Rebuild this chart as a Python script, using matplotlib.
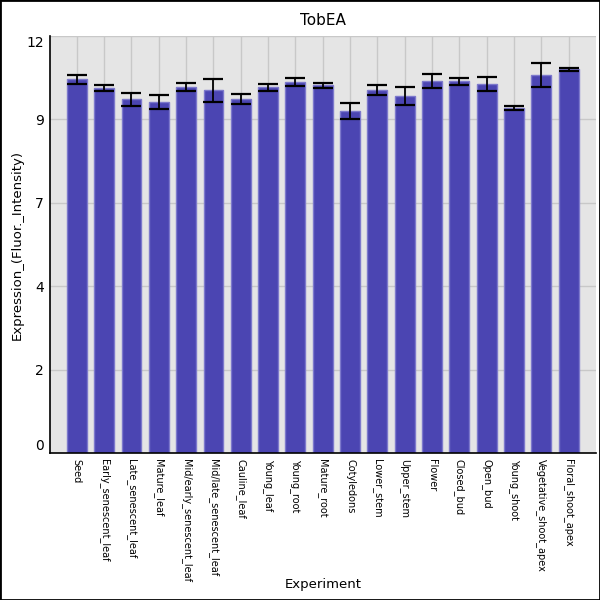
import numpy as np
import matplotlib
matplotlib.use('Agg')
import matplotlib.pyplot as plt
from matplotlib.patches import Rectangle

# data
experiments = ['Seed', 'Early_senescent_leaf', 'Late_senescent_leaf', 'Mature_leaf',
               'Mid/early_senescent_leaf', 'Mid/late_senescent_leaf', 'Cauline_leaf',
               'Young_leaf', 'Young_root', 'Mature_root', 'Cotyledons', 'Lower_stem',
               'Upper_stem', 'Flower', 'Closed_bud', 'Open_bud', 'Young_shoot',
               'Vegetative_shoot_apex', 'Floral_shoot_apex']
expression = [10.76, 10.50, 10.18, 10.09, 10.53, 10.44, 10.18, 10.53, 10.67, 10.58,
              9.84, 10.44, 10.27, 10.70, 10.70, 10.61, 9.92, 10.87, 11.04]
errors = [0.13, 0.08, 0.19, 0.20, 0.12, 0.33, 0.15, 0.10, 0.12, 0.07,
          0.23, 0.14, 0.25, 0.20, 0.10, 0.20, 0.06, 0.35, 0.05]
yticks = [0, 2.4, 4.8, 7.2, 9.6, 12]
ytick_labels = ['0', '2', '4', '7', '9', '12']

fig = plt.figure(figsize=(6, 6), dpi=100)
ax = fig.add_axes([0.0825, 0.245, 0.911, 0.695])
ax.set_facecolor('#e5e5e5')

x = np.arange(len(experiments))
ax.bar(x, expression, width=0.73, color='#4b45b2', edgecolor='#7d79cc', linewidth=1, zorder=2)
ax.errorbar(x, expression, yerr=errors, fmt='none', ecolor='black', elinewidth=1.3,
            capsize=7, capthick=1.6, zorder=3)

ax.set_xlim(-1, len(experiments))
ax.set_ylim(0, 12)
ax.set_xticks(x)
ax.set_xticklabels(experiments, rotation=270, fontsize=7, va='top', ha='center')
ax.set_yticks(yticks)
ax.set_yticklabels(ytick_labels, fontsize=10)
# end labels sit inside the axis range, as in the original
ylabels = ax.get_yticklabels()
ylabels[0].set_va('bottom')
ylabels[-1].set_va('top')
ax.tick_params(length=0, pad=4)
ax.grid(True, color='#c8c8c8', linewidth=1, zorder=0)
ax.set_axisbelow(True)
for side in ['top', 'right']:
    ax.spines[side].set_visible(False)
ax.spines['left'].set_linewidth(1.2)
ax.spines['bottom'].set_linewidth(1.2)

ax.set_title('TobEA', fontsize=11, pad=8)
ax.set_xlabel('Experiment', fontsize=9.5)
ax.xaxis.set_label_coords(0.5, -0.30)
ax.set_ylabel('Expression_(Fluor._Intensity)', fontsize=9.5)
ax.yaxis.set_label_coords(-0.047, 0.5)

# figure border
fig.patches.append(Rectangle((0, 0), 1, 1, transform=fig.transFigure, fill=False,
                             edgecolor='black', linewidth=2, zorder=10))

plt.savefig('out.png', dpi=100)
